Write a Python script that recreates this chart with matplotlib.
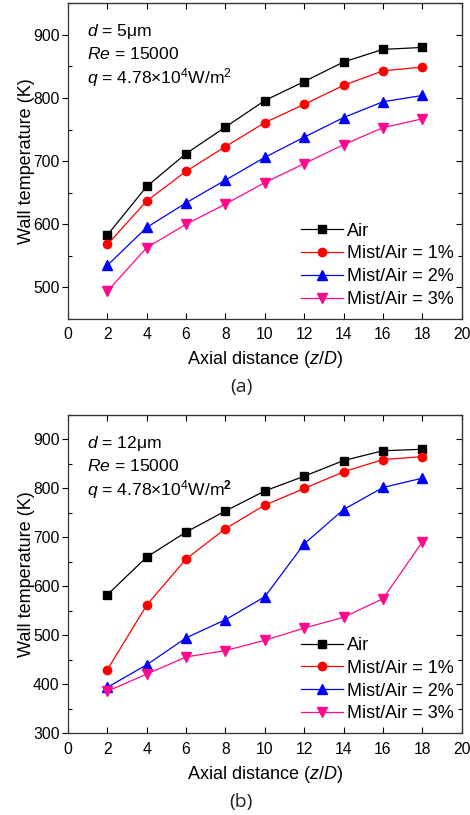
import matplotlib
matplotlib.use("Agg")
import matplotlib.pyplot as plt
from matplotlib.ticker import MultipleLocator

plt.rcParams["font.family"] = ["Liberation Sans", "DejaVu Sans"]
plt.rcParams["mathtext.fontset"] = "custom"
plt.rcParams["mathtext.rm"] = "Liberation Sans"
plt.rcParams["mathtext.it"] = "Liberation Sans:italic"
plt.rcParams["mathtext.bf"] = "Liberation Sans:bold"

# ── data ──────────────────────────────────────────────────────────────────────
z_d = [2, 4, 6, 8, 10, 12, 14, 16, 18]
labels = ["Air", "Mist/Air = 1%", "Mist/Air = 2%", "Mist/Air = 3%"]

# (a) d = 5 um
a_air  = [583, 660, 712, 754, 796, 826, 857, 877, 880]
a_m1   = [568, 637, 684, 723, 761, 790, 820, 843, 849]
a_m2   = [535, 595, 634, 670, 706, 738, 769, 794, 804]
a_m3   = [494, 563, 600, 632, 666, 696, 726, 753, 767]

# (b) d = 12 um
b_air  = [583, 660, 711, 754, 795, 825, 857, 877, 880]
b_m1   = [430, 562, 656, 718, 766, 800, 834, 859, 865]
b_m2   = [394, 440, 495, 532, 579, 687, 757, 802, 821]
b_m3   = [386, 421, 456, 469, 490, 515, 537, 575, 691]

COLORS  = ["black", "#FF0000", "#0000FF", "#FF0A8C"]
MARKERS = ["s", "o", "^", "v"]

FS_TICK  = 11.3
FS_LABEL = 13
FS_NOTE  = 12.6
FS_LEG   = 13


def draw_panel(ax, series, ylim, dia, q_label, tag):
    for y, lab, c, m in zip(series, labels, COLORS, MARKERS):
        ax.plot(z_d, y, color=c, marker=m, ms=6.5 if m in "^v" else 6,
                lw=0.9, label=lab)

    ax.set_xlim(0, 20)
    ax.set_ylim(*ylim)
    ax.xaxis.set_major_locator(MultipleLocator(2))
    ax.yaxis.set_major_locator(MultipleLocator(100))
    ax.yaxis.set_minor_locator(MultipleLocator(50))
    ax.tick_params(axis="x", which="major", direction="in", length=4,
                   width=0.8, labelsize=FS_TICK, pad=6)
    ax.tick_params(axis="y", which="major", direction="out", length=4,
                   width=0.8, labelsize=FS_TICK, pad=2)
    ax.tick_params(axis="y", which="minor", direction="in", length=3, width=0.8)
    for s in ax.spines.values():
        s.set_linewidth(0.9)
        s.set_color("#333333")

    # mirrored ticks on top/right, pointing inward
    top = ax.secondary_xaxis("top")
    top.xaxis.set_major_locator(MultipleLocator(2))
    top.tick_params(direction="in", length=4, width=0.8, labeltop=False)
    right = ax.secondary_yaxis("right")
    right.yaxis.set_major_locator(MultipleLocator(100))
    right.yaxis.set_minor_locator(MultipleLocator(50))
    right.tick_params(which="major", direction="in", length=4, width=0.8, labelright=False)
    right.tick_params(which="minor", direction="in", length=3, width=0.8)

    ax.set_xlabel("Axial distance ($\\it{z}$/$\\it{D}$)", fontsize=FS_LABEL, labelpad=5)
    ax.set_ylabel("Wall temperature (K)", fontsize=FS_LABEL, labelpad=-1.5)

    ax.text(0.048, 0.896, f"$\\it{{d}}$ = {dia}\u03bcm", transform=ax.transAxes,
            fontsize=FS_NOTE, va="baseline")
    ax.text(0.048, 0.823, "$\\it{Re}$ = 15000", transform=ax.transAxes,
            fontsize=FS_NOTE, va="baseline")
    ax.text(0.048, 0.747, q_label, transform=ax.transAxes,
            fontsize=FS_NOTE, va="baseline")

    ax.legend(loc="lower right", bbox_to_anchor=(1.012, -0.005), frameon=False,
              fontsize=FS_LEG, handlelength=2.3, handletextpad=0.25,
              labelspacing=0.32, borderaxespad=0.3)

    ax.text(0.44, -0.215, tag, transform=ax.transAxes, fontsize=14,
            ha="center", va="center", family=["Open Sans", "DejaVu Sans"],
            color="#222222")


fig = plt.figure(figsize=(4.7, 8.15), dpi=100)
ax1 = fig.add_axes([0.1447, 0.6086, 0.8376, 0.3874])
ax2 = fig.add_axes([0.1447, 0.1002, 0.8376, 0.3906])

draw_panel(ax1, [a_air, a_m1, a_m2, a_m3], (450, 950), 5,
           "$\\it{q}$ = 4.78\u00d710$^{4}$W/m$^{2}$", "(a)")
draw_panel(ax2, [b_air, b_m1, b_m2, b_m3], (300, 950), 12,
           "$\\it{q}$ = 4.78\u00d710$^{4}$W/m$^{\\mathbf{2}}$", "(b)")

fig.savefig("out.png", dpi=100)
